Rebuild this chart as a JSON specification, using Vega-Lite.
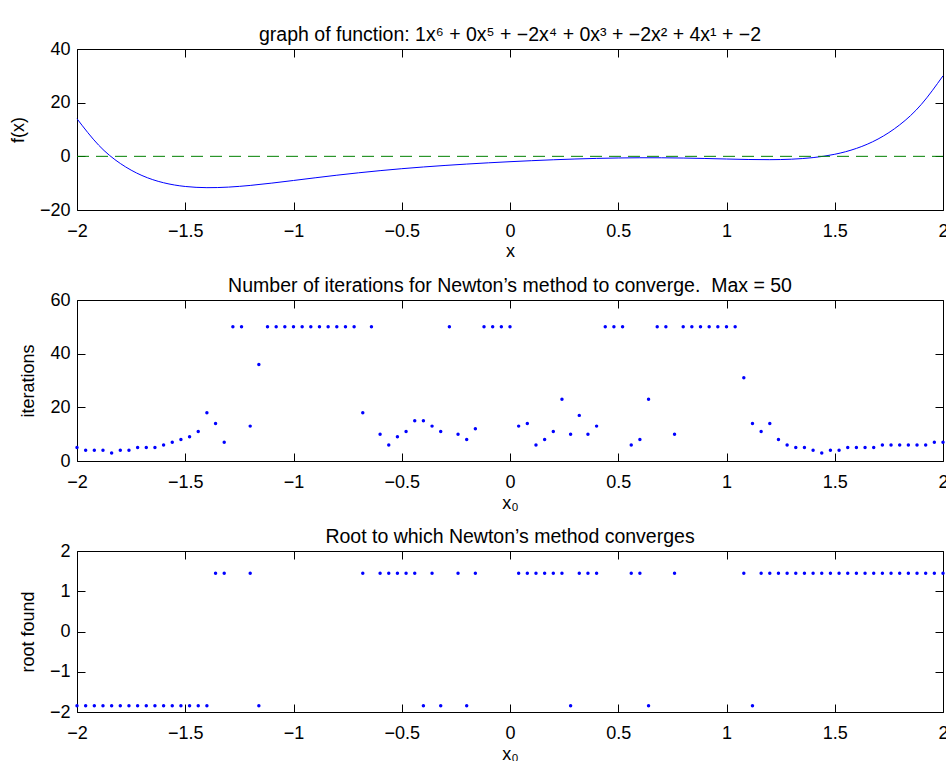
{
  "$schema": "https://vega.github.io/schema/vega-lite/v6.json",
  "padding": {"left": 9, "top": 24, "right": 0, "bottom": 0},
  "spacing": 90,
  "bounds": "flush",
  "config": {
    "view": {"stroke": null},
    "font": "Liberation Sans",
    "axis": {
      "labelFont": "Liberation Sans", "titleFont": "Liberation Sans",
      "labelFontSize": 18, "titleFontSize": 18, "titleFontWeight": "normal",
      "labelColor": "black", "titleColor": "black", "domainColor": "black", "tickColor": "black",
      "domainWidth": 1, "tickWidth": 1, "grid": false, "tickSize": -8, "labelFlush": false, "labelOverlap": false
    },
    "title": {"font": "Liberation Sans", "fontSize": 19.5, "fontWeight": "normal", "color": "black", "anchor": "middle", "frame": "group", "offset": -5}
  },
  "datasets": {
    "fx": [
      {"x": -2.0, "y": 14}, {"x": -1.9, "y": 4.16168}, {"x": -1.8, "y": -2.66298}, {"x": -1.7, "y": -7.14663},
      {"x": -1.6, "y": -9.84998}, {"x": -1.5, "y": -11.23438}, {"x": -1.4, "y": -11.67366}, {"x": -1.3, "y": -11.46539},
      {"x": -1.2, "y": -10.84122}, {"x": -1.1, "y": -9.97664}, {"x": -1.0, "y": -9}, {"x": -0.9, "y": -8.00076},
      {"x": -0.8, "y": -7.03706}, {"x": -0.7, "y": -6.14255}, {"x": -0.6, "y": -5.33254}, {"x": -0.5, "y": -4.60938},
      {"x": -0.4, "y": -3.9671}, {"x": -0.3, "y": -3.39547}, {"x": -0.2, "y": -2.88314}, {"x": -0.1, "y": -2.4202},
      {"x": 0.0, "y": -2}, {"x": 0.1, "y": -1.6202}, {"x": 0.2, "y": -1.28314}, {"x": 0.3, "y": -0.99547},
      {"x": 0.4, "y": -0.7671}, {"x": 0.5, "y": -0.60938}, {"x": 0.6, "y": -0.53254}, {"x": 0.7, "y": -0.54255},
      {"x": 0.8, "y": -0.63706}, {"x": 0.9, "y": -0.80076}, {"x": 1.0, "y": -1}, {"x": 1.1, "y": -1.17664},
      {"x": 1.2, "y": -1.24122}, {"x": 1.3, "y": -1.06539}, {"x": 1.4, "y": -0.47366}, {"x": 1.5, "y": 0.76562},
      {"x": 1.6, "y": 2.95002}, {"x": 1.7, "y": 6.45337}, {"x": 1.8, "y": 11.73702}, {"x": 1.9, "y": 19.36168},
      {"x": 2.0, "y": 30}
    ],
    "newton": [
      {"x0": -2.0, "it": 5, "root": -1.844}, {"x0": -1.96, "it": 4, "root": -1.844}, {"x0": -1.92, "it": 4, "root": -1.844},
      {"x0": -1.88, "it": 4, "root": -1.844}, {"x0": -1.84, "it": 3, "root": -1.844}, {"x0": -1.8, "it": 4, "root": -1.844},
      {"x0": -1.76, "it": 4, "root": -1.844}, {"x0": -1.72, "it": 5, "root": -1.844}, {"x0": -1.68, "it": 5, "root": -1.844},
      {"x0": -1.64, "it": 5, "root": -1.844}, {"x0": -1.6, "it": 6, "root": -1.844}, {"x0": -1.56, "it": 7, "root": -1.844},
      {"x0": -1.52, "it": 8, "root": -1.844}, {"x0": -1.48, "it": 9, "root": -1.844}, {"x0": -1.44, "it": 11, "root": -1.844},
      {"x0": -1.4, "it": 18, "root": -1.844}, {"x0": -1.36, "it": 14, "root": 1.446}, {"x0": -1.32, "it": 7, "root": 1.446},
      {"x0": -1.28, "it": 50, "root": null}, {"x0": -1.24, "it": 50, "root": null}, {"x0": -1.2, "it": 13, "root": 1.446},
      {"x0": -1.16, "it": 36, "root": -1.844}, {"x0": -1.12, "it": 50, "root": null}, {"x0": -1.08, "it": 50, "root": null},
      {"x0": -1.04, "it": 50, "root": null}, {"x0": -1.0, "it": 50, "root": null}, {"x0": -0.96, "it": 50, "root": null},
      {"x0": -0.92, "it": 50, "root": null}, {"x0": -0.88, "it": 50, "root": null}, {"x0": -0.84, "it": 50, "root": null},
      {"x0": -0.8, "it": 50, "root": null}, {"x0": -0.76, "it": 50, "root": null}, {"x0": -0.72, "it": 50, "root": null},
      {"x0": -0.68, "it": 18, "root": 1.446}, {"x0": -0.64, "it": 50, "root": null}, {"x0": -0.6, "it": 10, "root": 1.446},
      {"x0": -0.56, "it": 6, "root": 1.446}, {"x0": -0.52, "it": 9, "root": 1.446}, {"x0": -0.48, "it": 11, "root": 1.446},
      {"x0": -0.44, "it": 15, "root": 1.446}, {"x0": -0.4, "it": 15, "root": -1.844}, {"x0": -0.36, "it": 13, "root": 1.446},
      {"x0": -0.32, "it": 11, "root": -1.844}, {"x0": -0.28, "it": 50, "root": null}, {"x0": -0.24, "it": 10, "root": 1.446},
      {"x0": -0.2, "it": 8, "root": -1.844}, {"x0": -0.16, "it": 12, "root": 1.446}, {"x0": -0.12, "it": 50, "root": null},
      {"x0": -0.08, "it": 50, "root": null}, {"x0": -0.04, "it": 50, "root": null}, {"x0": 0.0, "it": 50, "root": null},
      {"x0": 0.04, "it": 13, "root": 1.446}, {"x0": 0.08, "it": 14, "root": 1.446}, {"x0": 0.12, "it": 6, "root": 1.446},
      {"x0": 0.16, "it": 8, "root": 1.446}, {"x0": 0.2, "it": 11, "root": 1.446}, {"x0": 0.24, "it": 23, "root": 1.446},
      {"x0": 0.28, "it": 10, "root": -1.844}, {"x0": 0.32, "it": 17, "root": 1.446}, {"x0": 0.36, "it": 10, "root": 1.446},
      {"x0": 0.4, "it": 13, "root": 1.446}, {"x0": 0.44, "it": 50, "root": null}, {"x0": 0.48, "it": 50, "root": null},
      {"x0": 0.52, "it": 50, "root": null}, {"x0": 0.56, "it": 6, "root": 1.446}, {"x0": 0.6, "it": 8, "root": 1.446},
      {"x0": 0.64, "it": 23, "root": -1.844}, {"x0": 0.68, "it": 50, "root": null}, {"x0": 0.72, "it": 50, "root": null},
      {"x0": 0.76, "it": 10, "root": 1.446}, {"x0": 0.8, "it": 50, "root": null}, {"x0": 0.84, "it": 50, "root": null},
      {"x0": 0.88, "it": 50, "root": null}, {"x0": 0.92, "it": 50, "root": null}, {"x0": 0.96, "it": 50, "root": null},
      {"x0": 1.0, "it": 50, "root": null}, {"x0": 1.04, "it": 50, "root": null}, {"x0": 1.08, "it": 31, "root": 1.446},
      {"x0": 1.12, "it": 14, "root": -1.844}, {"x0": 1.16, "it": 11, "root": 1.446}, {"x0": 1.2, "it": 14, "root": 1.446},
      {"x0": 1.24, "it": 8, "root": 1.446}, {"x0": 1.28, "it": 6, "root": 1.446}, {"x0": 1.32, "it": 5, "root": 1.446},
      {"x0": 1.36, "it": 5, "root": 1.446}, {"x0": 1.4, "it": 4, "root": 1.446}, {"x0": 1.44, "it": 3, "root": 1.446},
      {"x0": 1.48, "it": 4, "root": 1.446}, {"x0": 1.52, "it": 4, "root": 1.446}, {"x0": 1.56, "it": 5, "root": 1.446},
      {"x0": 1.6, "it": 5, "root": 1.446}, {"x0": 1.64, "it": 5, "root": 1.446}, {"x0": 1.68, "it": 5, "root": 1.446},
      {"x0": 1.72, "it": 6, "root": 1.446}, {"x0": 1.76, "it": 6, "root": 1.446}, {"x0": 1.8, "it": 6, "root": 1.446},
      {"x0": 1.84, "it": 6, "root": 1.446}, {"x0": 1.88, "it": 6, "root": 1.446}, {"x0": 1.92, "it": 6, "root": 1.446},
      {"x0": 1.96, "it": 7, "root": 1.446}, {"x0": 2.0, "it": 7, "root": 1.446}
    ]
  },
  "vconcat": [
    {
      "width": 866, "height": 161,
      "title": {"text": "graph of function: 1x⁶ + 0x⁵ + −2x⁴ + 0x³ + −2x² + 4x¹ + −2"},
      "layer": [
        {
          "data": {"name": "fx"},
          "mark": {"type": "line", "color": "#0000ff", "strokeWidth": 1, "interpolate": "natural"},
          "encoding": {
            "x": {"field": "x", "type": "quantitative", "scale": {"domain": [-2, 2], "nice": false, "zero": false},
                  "axis": {"values": [-2, -1.5, -1, -0.5, 0, 0.5, 1, 1.5, 2], "format": "~g", "labelPadding": 20, "title": "x", "titlePadding": 2}},
            "y": {"field": "y", "type": "quantitative", "scale": {"domain": [-20, 40], "nice": false, "zero": false},
                  "axis": {"values": [-20, 0, 20, 40], "format": "d", "labelPadding": 15, "title": "f(x)", "titlePadding": 12}}
          }
        },
        {
          "data": {"values": [{}]},
          "mark": {"type": "rule", "color": "#008000", "strokeWidth": 1, "strokeDash": [12, 7]},
          "encoding": {
            "x": {"datum": -2, "type": "quantitative", "axis": {"orient": "top", "values": [-2, -1.5, -1, -0.5, 0, 0.5, 1, 1.5, 2], "labels": false, "title": null}},
            "x2": {"datum": 2},
            "y": {"datum": 0, "type": "quantitative", "axis": {"orient": "right", "values": [-20, 0, 20, 40], "labels": false, "title": null}}
          }
        }
      ],
      "resolve": {"axis": {"x": "independent", "y": "independent"}}
    },
    {
      "width": 866, "height": 161,
      "title": {"text": "Number of iterations for Newton’s method to converge. \u00a0Max = 50"},
      "data": {"name": "newton"},
      "layer": [
        {
          "mark": {"type": "point", "filled": true, "color": "#0000ff", "size": 12, "opacity": 1},
          "encoding": {
            "x": {"field": "x0", "type": "quantitative", "scale": {"domain": [-2, 2], "nice": false, "zero": false},
                  "axis": {"values": [-2, -1.5, -1, -0.5, 0, 0.5, 1, 1.5, 2], "format": "~g", "labelPadding": 20, "title": "x₀", "titlePadding": 3}},
            "y": {"field": "it", "type": "quantitative", "scale": {"domain": [0, 60], "nice": false, "zero": false},
                  "axis": {"values": [0, 20, 40, 60], "format": "d", "labelPadding": 15, "title": "iterations", "titlePadding": 12}}
          }
        },
        {
          "mark": {"type": "point", "filled": true, "color": "#0000ff", "size": 12, "opacity": 0},
          "encoding": {
            "x": {"field": "x0", "type": "quantitative", "axis": {"orient": "top", "values": [-2, -1.5, -1, -0.5, 0, 0.5, 1, 1.5, 2], "labels": false, "title": null}},
            "y": {"field": "it", "type": "quantitative", "axis": {"orient": "right", "values": [0, 20, 40, 60], "labels": false, "title": null}}
          }
        }
      ],
      "resolve": {"axis": {"x": "independent", "y": "independent"}}
    },
    {
      "width": 866, "height": 161,
      "title": {"text": "Root to which Newton’s method converges"},
      "data": {"name": "newton"},
      "layer": [
        {
          "mark": {"type": "point", "filled": true, "color": "#0000ff", "size": 12, "opacity": 1},
          "encoding": {
            "x": {"field": "x0", "type": "quantitative", "scale": {"domain": [-2, 2], "nice": false, "zero": false},
                  "axis": {"values": [-2, -1.5, -1, -0.5, 0, 0.5, 1, 1.5, 2], "format": "~g", "labelPadding": 20, "title": "x₀", "titlePadding": 3}},
            "y": {"field": "root", "type": "quantitative", "scale": {"domain": [-2, 2], "nice": false, "zero": false},
                  "axis": {"values": [-2, -1, 0, 1, 2], "format": "d", "labelPadding": 15, "title": "root found", "titlePadding": 12}}
          }
        },
        {
          "mark": {"type": "point", "filled": true, "color": "#0000ff", "size": 12, "opacity": 0},
          "encoding": {
            "x": {"field": "x0", "type": "quantitative", "axis": {"orient": "top", "values": [-2, -1.5, -1, -0.5, 0, 0.5, 1, 1.5, 2], "labels": false, "title": null}},
            "y": {"field": "root", "type": "quantitative", "axis": {"orient": "right", "values": [-2, -1, 0, 1, 2], "labels": false, "title": null}}
          }
        }
      ],
      "resolve": {"axis": {"x": "independent", "y": "independent"}}
    }
  ]
}
